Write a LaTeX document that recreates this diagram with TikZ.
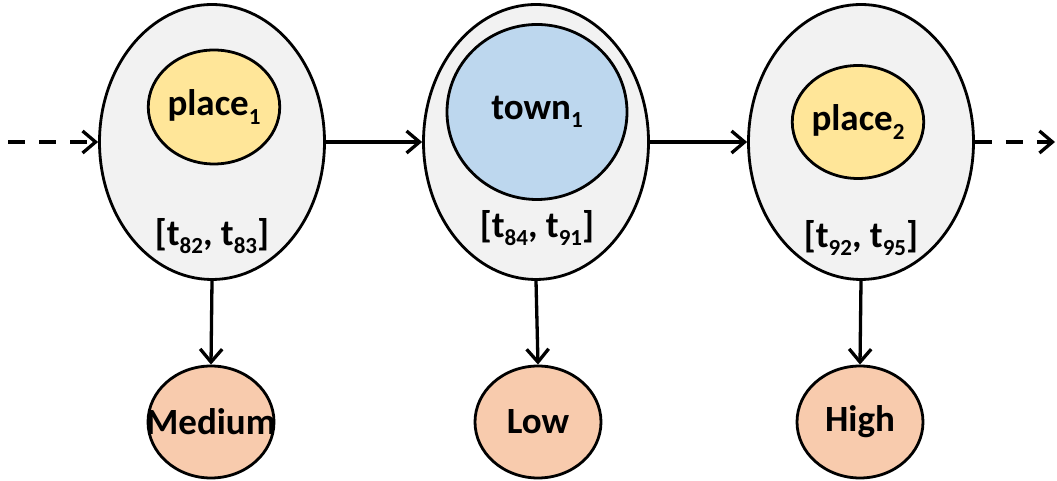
\documentclass[tikz,border=0pt]{standalone}
\usepackage{fontspec}
\setmainfont{Carlito}
\usetikzlibrary{shapes.geometric,arrows.meta}
\newcommand\sbs[1]{\raisebox{-0.22em}{\fontsize{23}{23}\selectfont #1}}
\definecolor{outergray}{HTML}{F2F2F2}
\definecolor{placeyellow}{HTML}{FFE699}
\definecolor{townblue}{HTML}{BDD7EE}
\definecolor{valorange}{HTML}{F8CBAD}
\tikzset{
  every node/.style={font=\fontsize{37}{42}\selectfont\bfseries},
  outer/.style={ellipse, draw, line width=2.8pt, fill=outergray, inner sep=0pt, minimum width=225pt, minimum height=275pt},
  inner/.style={ellipse, draw, line width=2.8pt, inner sep=0pt},
  valnode/.style={ellipse, draw, line width=2.8pt, fill=valorange, inner sep=0pt, minimum width=126pt, minimum height=112pt},
  conn/.style={line width=3.3pt, -{Straight Barb[length=13pt,width=22pt,line width=3.3pt]}},
  dconn/.style={conn, dash pattern=on 17pt off 14pt}
}
\begin{document}
\begin{tikzpicture}[x=1pt,y=1pt]
\useasboundingbox (0,0) rectangle (1057,481);
\node[outer] (E1) at (212,339) {};
\node[outer] (E2) at (536,339) {};
\node[outer] (E3) at (861,339) {};
\node[inner, fill=placeyellow, minimum width=128pt, minimum height=114pt] (P1) at (214,374) {place\sbs{1}};
\node[inner, fill=townblue, minimum width=180pt, minimum height=175pt] (T1) at (537,369) {town\sbs{1}};
\node[inner, fill=placeyellow, minimum width=128pt, minimum height=113pt] (P2) at (858,359) {place\sbs{2}};
\node (L1) at (212,245) {[t\sbs{82}, t\sbs{83}]};
\node (L2) at (537,253) {[t\sbs{84}, t\sbs{91}]};
\node (L3) at (861,243) {[t\sbs{92}, t\sbs{95}]};
\node[valnode] (M) at (211,59) {\makebox[0pt]{Medium}};
\node[valnode] (L) at (538,59) {Low};
\node[valnode] (H) at (860,59) {High};
\coordinate (S) at (8,339);
\coordinate (F) at (1055,339);
\draw[dconn] (S) -- (E1.west);
\draw[conn] (E1.east) -- (E2.west);
\draw[conn] (E2.east) -- (E3.west);
\draw[dconn] (E3.east) -- (F);
\draw[conn] (E1.south) -- (M.north);
\draw[conn] (E2.south) -- (L.north);
\draw[conn] (E3.south) -- (H.north);
\end{tikzpicture}
\end{document}
